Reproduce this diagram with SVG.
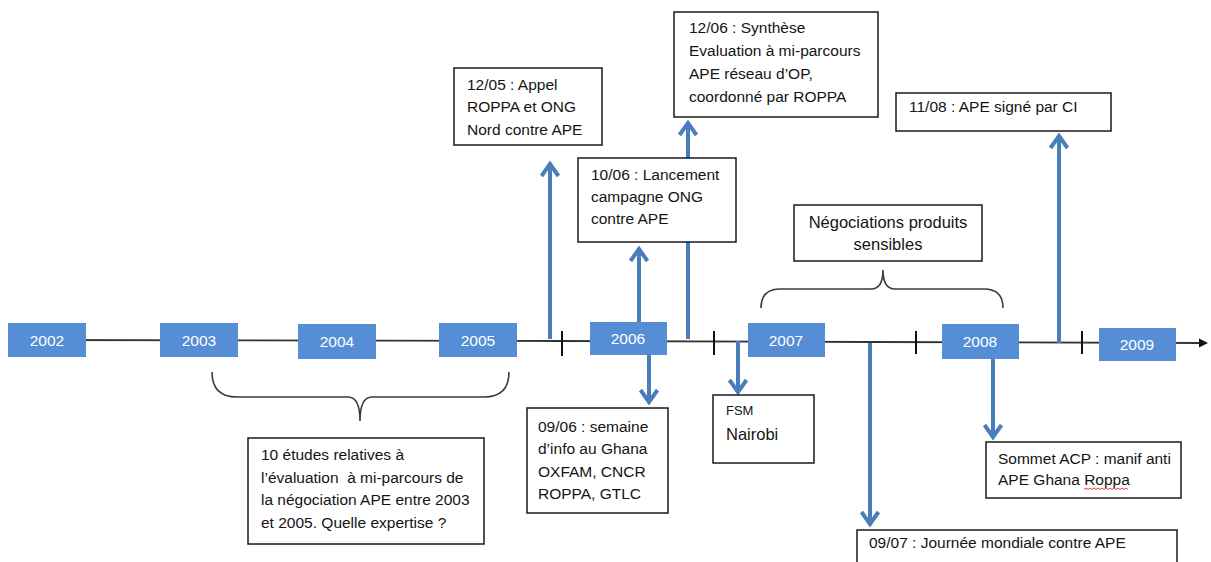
<svg xmlns="http://www.w3.org/2000/svg" width="1211" height="562" viewBox="0 0 1211 562">
<defs>
<style>
.yr{fill:#558ED5;}
.yt{font-family:"Liberation Sans",Arial,sans-serif;font-size:15.5px;fill:#ffffff;text-anchor:middle;}
.box{fill:#ffffff;stroke:#1a1a1a;stroke-width:1.5;}
.t{font-family:"Liberation Sans",Arial,sans-serif;font-size:15.5px;fill:#141414;}
.arr{stroke:#4A7EBB;stroke-width:4;fill:none;marker-end:url(#chev);}
.tick{stroke:#111;stroke-width:2;}
.brace{stroke:#3a3a3a;stroke-width:1.6;fill:none;}
</style>
<marker id="chev" markerUnits="userSpaceOnUse" viewBox="-20 -12 24 24" refX="0" refY="0" markerWidth="24" markerHeight="24" orient="auto">
<path d="M-13,-8.5 L-1,0 L-13,8.5" fill="none" stroke="#4A7EBB" stroke-width="4" stroke-linejoin="miter"/>
</marker>
<marker id="tri" markerUnits="userSpaceOnUse" viewBox="0 -6 10 12" refX="2" refY="0" markerWidth="10" markerHeight="12" orient="auto">
<path d="M0,-4.5 L9,0 L0,4.5 Z" fill="#111"/>
</marker>
</defs>

<g id="timeline">
<path d="M20,340 L560,341 L870,342 L1201,343" stroke="#333" stroke-width="1.8" fill="none" marker-end="url(#tri)"/>
<line class="tick" x1="562" y1="331" x2="562" y2="356"/>
<line class="tick" x1="714" y1="331" x2="714" y2="355"/>
<line class="tick" x1="916" y1="331" x2="916" y2="354"/>
<line class="tick" x1="1082" y1="331" x2="1082" y2="354"/>
</g>

<g id="connectors">
<line class="arr" x1="550" y1="339" x2="550" y2="163"/>
<line class="arr" x1="639" y1="322" x2="639" y2="248"/>
<line class="arr" x1="688" y1="339" x2="688" y2="122"/>
<line class="arr" x1="649" y1="355" x2="649" y2="403"/>
<line class="arr" x1="738" y1="341" x2="738" y2="393"/>
<line class="arr" x1="870" y1="343" x2="870" y2="525"/>
<line class="arr" x1="993" y1="359" x2="993" y2="438"/>
<line class="arr" x1="1059" y1="343" x2="1059" y2="135"/>
</g>

<g id="brace-2003-2005">
<path class="brace" d="M212,372 Q212,397 237,397 L348,397 Q360,397 360,421 Q360,397 372,397 L484,397 Q509,397 509,372"/>
</g>
<g id="brace-negociations">
<path class="brace" d="M761,308 Q761,289 780,289 L871,289 Q883,289 883,270 Q883,289 895,289 L984,289 Q1003,289 1003,308"/>
</g>

<g id="y2002"><rect class="yr" x="8" y="323" width="78" height="34"/><text class="yt" x="47" y="345.5">2002</text></g>
<g id="y2003"><rect class="yr" x="160" y="323" width="78" height="34"/><text class="yt" x="199" y="345.5">2003</text></g>
<g id="y2004"><rect class="yr" x="298" y="324" width="78" height="35"/><text class="yt" x="337" y="347">2004</text></g>
<g id="y2005"><rect class="yr" x="439" y="323" width="78" height="34"/><text class="yt" x="478" y="345.5">2005</text></g>
<g id="y2006"><rect class="yr" x="590" y="322" width="77" height="33"/><text class="yt" x="628" y="344">2006</text></g>
<g id="y2007"><rect class="yr" x="748" y="323" width="77" height="34"/><text class="yt" x="786" y="345.5">2007</text></g>
<g id="y2008"><rect class="yr" x="942" y="324" width="77" height="35"/><text class="yt" x="980" y="347">2008</text></g>
<g id="y2009"><rect class="yr" x="1099" y="328" width="77" height="33"/><text class="yt" x="1137" y="350">2009</text></g>

<g id="n1205">
<rect class="box" x="454" y="68" width="148" height="77"/>
<text class="t" x="467" y="89.5">12/05 : Appel</text>
<text class="t" x="467" y="112">ROPPA et ONG</text>
<text class="t" x="467" y="134.5">Nord contre APE</text>
</g>

<g id="n1006">
<rect class="box" x="578" y="158" width="158" height="84"/>
<text class="t" x="591" y="179.5">10/06 : Lancement</text>
<text class="t" x="591" y="202">campagne ONG</text>
<text class="t" x="591" y="224">contre APE</text>
</g>

<g id="n1206">
<rect class="box" x="674" y="12" width="204" height="105"/>
<text class="t" x="689" y="32.5">12/06 : Synthèse</text>
<text class="t" x="689" y="55.5">Evaluation à mi-parcours</text>
<text class="t" x="689" y="79">APE réseau d’OP,</text>
<text class="t" x="689" y="102">coordonné par ROPPA</text>
</g>

<g id="n1108">
<rect class="box" x="896" y="93" width="215" height="38"/>
<text class="t" x="909" y="111.5">11/08 : APE signé par CI</text>
</g>

<g id="nNego">
<rect class="box" x="794" y="205" width="188" height="56"/>
<text class="t" x="888" y="227.5" text-anchor="middle" style="font-size:16.5px">Négociations produits</text>
<text class="t" x="888" y="249.5" text-anchor="middle" style="font-size:16.5px">sensibles</text>
</g>

<g id="nEtudes">
<rect class="box" x="248" y="438" width="236" height="106"/>
<text class="t" x="261" y="460">10 études relatives à</text>
<text class="t" x="261" y="482.5">l’évaluation&#160; à mi-parcours de</text>
<text class="t" x="261" y="505">la négociation APE entre 2003</text>
<text class="t" x="261" y="528">et 2005. Quelle expertise ?</text>
</g>

<g id="n0906">
<rect class="box" x="527" y="408" width="141" height="105"/>
<text class="t" x="538" y="431.5">09/06 : semaine</text>
<text class="t" x="538" y="454">d’info au Ghana</text>
<text class="t" x="538" y="476.5">OXFAM, CNCR</text>
<text class="t" x="538" y="499">ROPPA, GTLC</text>
</g>

<g id="nFSM">
<rect class="box" x="713" y="395" width="101" height="68"/>
<text class="t" x="726" y="415" style="font-size:13px">FSM</text>
<text class="t" x="726" y="440" style="font-size:16.5px">Nairobi</text>
</g>

<g id="nSommet">
<rect class="box" x="986" y="442" width="195" height="56"/>
<text class="t" x="998" y="463.5">Sommet ACP : manif anti</text>
<text class="t" x="998" y="485">APE Ghana Roppa</text>
<path d="M1084,489.5 l2,-1.5 l2,1.5 l2,-1.5 l2,1.5 l2,-1.5 l2,1.5 l2,-1.5 l2,1.5 l2,-1.5 l2,1.5 l2,-1.5 l2,1.5 l2,-1.5 l2,1.5 l2,-1.5 l2,1.5 l2,-1.5 l2,1.5 l2,-1.5 l2,1.5 l2,-1.5 l2,1.5" fill="none" stroke="#e02020" stroke-width="0.9"/>
</g>

<g id="n0907">
<rect class="box" x="857" y="530" width="320" height="45"/>
<text class="t" x="869" y="548">09/07 : Journée mondiale contre APE</text>
</g>
</svg>
